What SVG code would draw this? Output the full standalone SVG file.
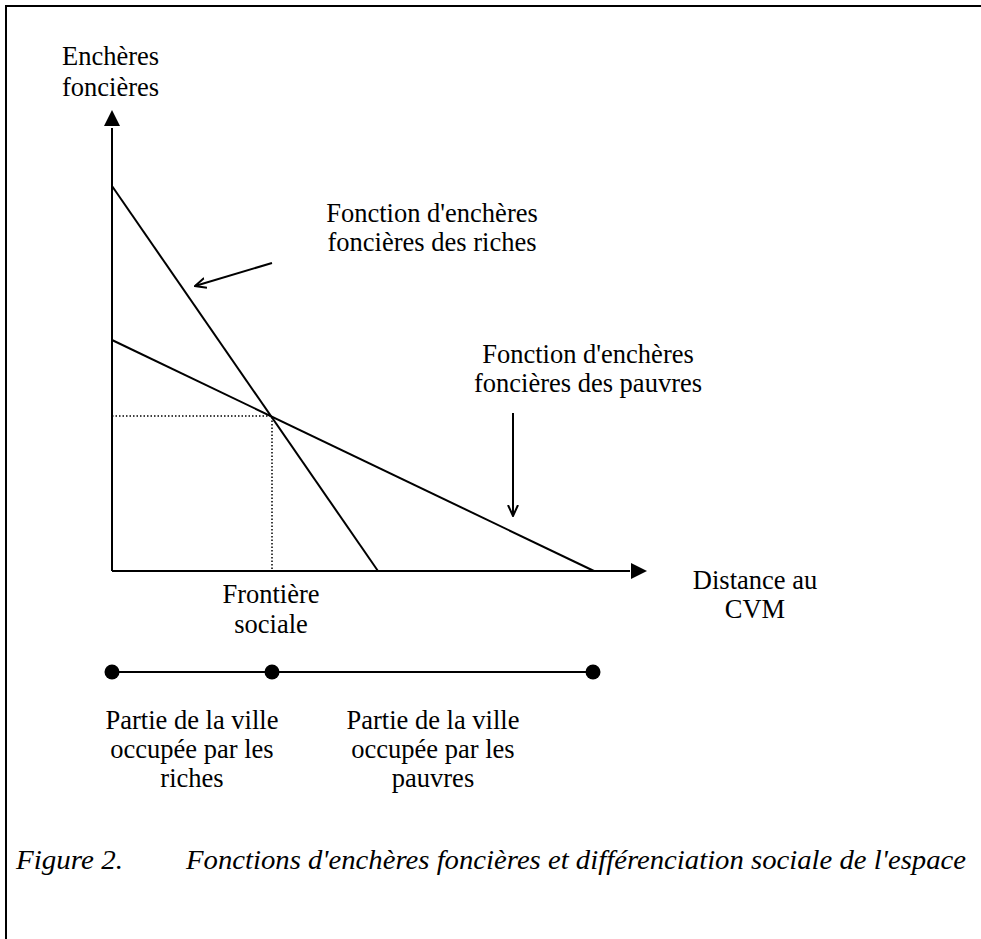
<svg xmlns="http://www.w3.org/2000/svg" width="981" height="939" viewBox="0 0 981 939">
<style>
text{font-family:"Liberation Serif","Times New Roman",serif;font-size:26.5px;fill:#000}
.c{text-anchor:middle}
.ln{stroke:#000;stroke-width:2;fill:none}
.dot{stroke:#000;stroke-width:1.5;stroke-dasharray:1.5 2;fill:none}
.cap{font-style:italic;font-size:27px}
</style>
<defs>
<marker id="open" markerWidth="12" markerHeight="12" refX="11" refY="6" orient="auto" markerUnits="userSpaceOnUse" viewBox="0 0 12 12">
<path d="M0,1 L11,6 L0,11" fill="none" stroke="#000" stroke-width="2"/>
</marker>
</defs>
<path d="M6,939 V6 H981" fill="none" stroke="#000" stroke-width="2"/>
<g id="axes">
<path d="M112,571 V128" class="ln"/>
<path d="M112,110 L104,126 L120,126 z" fill="#000"/>
<path d="M112,571 H630" class="ln"/>
<path d="M647,571 L631,563 L631,579 z" fill="#000"/>
</g>
<g id="curves">
<path d="M112,186 L378,571" class="ln"/>
<path d="M112,340 L594,571" class="ln"/>
<path d="M112,416 H272 V571" class="dot"/>
</g>
<g id="connectors">
<path d="M272,263 L195,286" class="ln" marker-end="url(#open)"/>
<path d="M513,413 V516" class="ln" marker-end="url(#open)"/>
</g>
<g id="timeline">
<path d="M112,672 H593" class="ln"/>
<circle cx="112" cy="672" r="7.5"/>
<circle cx="272" cy="672" r="7.5"/>
<circle cx="593" cy="672" r="7.5"/>
</g>
<g id="label-y">
<text x="62" y="65">Enchères</text>
<text x="62" y="96">foncières</text>
</g>
<g id="label-rich">
<text class="c" x="432" y="222">Fonction d'enchères</text>
<text class="c" x="432" y="251">foncières des riches</text>
</g>
<g id="label-poor">
<text class="c" x="588" y="363">Fonction d'enchères</text>
<text class="c" x="588" y="392">foncières des pauvres</text>
</g>
<g id="label-x">
<text class="c" x="755" y="589">Distance au</text>
<text class="c" x="755" y="618">CVM</text>
</g>
<g id="label-frontier">
<text class="c" x="271" y="603">Frontière</text>
<text class="c" x="271" y="633">sociale</text>
</g>
<g id="label-riches-part">
<text class="c" x="192" y="729">Partie de la ville</text>
<text class="c" x="192" y="758">occupée par les</text>
<text class="c" x="192" y="787">riches</text>
</g>
<g id="label-poor-part">
<text class="c" x="433" y="729">Partie de la ville</text>
<text class="c" x="433" y="758">occupée par les</text>
<text class="c" x="433" y="787">pauvres</text>
</g>
<text class="cap" x="16" y="869" textLength="107" lengthAdjust="spacingAndGlyphs">Figure 2.</text>
<text class="cap" x="186" y="869" textLength="780" lengthAdjust="spacingAndGlyphs">Fonctions d'enchères foncières et différenciation sociale de l'espace</text>
</svg>
